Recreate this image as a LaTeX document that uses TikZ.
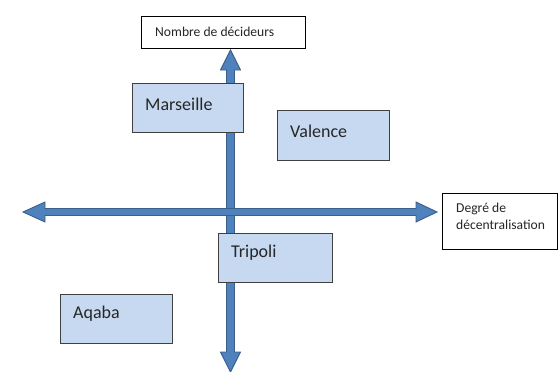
\documentclass[tikz,border=0pt]{standalone}
\usepackage{fontspec}
\setmainfont{Carlito}
\definecolor{arrowfill}{HTML}{4F81BD}
\definecolor{arrowline}{HTML}{3A5F8B}
\definecolor{boxfill}{HTML}{C6D9F1}
\definecolor{boxline}{HTML}{404040}
\tikzset{
  citybox/.style={draw=boxline, fill=boxfill, line width=0.9pt, inner sep=0pt},
  labelbox/.style={draw=black, fill=white, line width=0.7pt, inner sep=0pt},
  citytext/.style={anchor=base west, inner sep=0pt, font=\fontsize{18}{20}\selectfont, text=black!85},
  smalltext/.style={anchor=base west, inner sep=0pt, font=\fontsize{13.6}{17}\selectfont, text=black!85},
  axis/.style={fill=arrowfill, draw=arrowline, line width=0.9pt, line join=miter},
}
\begin{document}
\begin{tikzpicture}[x=1pt,y=-1pt]
\useasboundingbox (0,0) rectangle (558,372);
% vertical axis
\draw[axis] (230.5,50) -- (240.5,70) -- (234.5,70) -- (234.5,352) -- (240.5,352)
  -- (230.5,372) -- (220.5,352) -- (226.5,352) -- (226.5,70) -- (220.5,70) -- cycle;
% horizontal axis
\draw[axis] (23,212) -- (45,202) -- (45,208.5) -- (416,208.5) -- (416,202)
  -- (437,212) -- (416,222) -- (416,215.5) -- (45,215.5) -- (45,222) -- cycle;
\fill[arrowfill] (227,209) rectangle (234,215);
% label boxes
\node[labelbox, minimum width=164pt, minimum height=32pt, anchor=north west] (nb) at (141,16) {};
\node[smalltext] (nbt) at (155,36) {Nombre de décideurs};
\node[labelbox, minimum width=115pt, minimum height=56pt, anchor=north west] (dg) at (442,193) {};
\node[smalltext, align=left, anchor=north west] (dgt) at (456,203) {Degré de\\décentralisation};
% city boxes
\node[citybox, minimum width=111pt, minimum height=49pt, anchor=north west] (ma) at (132,83) {};
\node[citytext] (mat) at (145,110) {Marseille};
\node[citybox, minimum width=112pt, minimum height=50pt, anchor=north west] (va) at (277,110) {};
\node[citytext] (vat) at (290,137) {Valence};
\node[citybox, minimum width=114pt, minimum height=49pt, anchor=north west] (tr) at (218,233) {};
\node[citytext] (trt) at (231,257) {Tripoli};
\node[citybox, minimum width=112pt, minimum height=49pt, anchor=north west] (aq) at (60,294) {};
\node[citytext] (aqt) at (73,318) {Aqaba};
\end{tikzpicture}
\end{document}
